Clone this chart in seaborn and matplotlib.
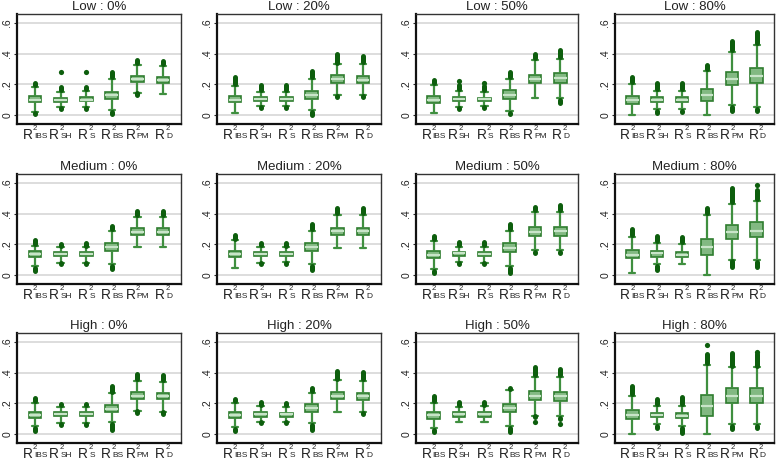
import numpy as np
import pandas as pd
import matplotlib
matplotlib.use('Agg')
import matplotlib.pyplot as plt
import seaborn as sns

levels = ['Low', 'Medium', 'High']
shares = ['0%', '20%', '50%', '80%']
measures = ['IBS', 'SH', 'S', 'BS', 'PM', 'D']

# one row per panel (Low 0/20/50/80, Medium ..., High ...), one column per measure
whis_lo = [
    [.020, .050, .050, .030, .145, .135],
    [.015, .055, .055, .030, .130, .130],
    [.010, .050, .055, .025, .110, .110],
    [.000, .040, .040, .000, .065, .050],
    [.055, .080, .080, .070, .180, .180],
    [.045, .080, .085, .070, .175, .175],
    [.040, .085, .080, .060, .160, .160],
    [.010, .070, .070, .000, .100, .095],
    [.050, .070, .070, .075, .150, .145],
    [.045, .080, .080, .070, .140, .140],
    [.035, .080, .075, .050, .120, .115],
    [.000, .065, .050, .000, .065, .065],
]
q1 = [
    [.083, .087, .090, .102, .213, .207],
    [.083, .090, .090, .104, .210, .207],
    [.076, .093, .093, .102, .207, .207],
    [.072, .087, .087, .093, .198, .207],
    [.115, .122, .124, .154, .261, .261],
    [.117, .124, .124, .154, .261, .261],
    [.111, .126, .122, .150, .257, .254],
    [.107, .120, .115, .133, .235, .248],
    [.103, .114, .114, .140, .227, .225],
    [.103, .111, .111, .144, .225, .223],
    [.100, .111, .111, .140, .223, .214],
    [.094, .109, .103, .120, .199, .200],
]
med = [
    [.100, .100, .100, .130, .235, .230],
    [.100, .105, .103, .130, .235, .230],
    [.100, .105, .103, .130, .235, .240],
    [.100, .100, .100, .130, .235, .255],
    [.135, .135, .137, .180, .280, .280],
    [.137, .137, .137, .180, .285, .285],
    [.130, .140, .135, .175, .280, .285],
    [.130, .140, .130, .180, .280, .290],
    [.125, .127, .127, .165, .250, .245],
    [.125, .128, .127, .170, .250, .245],
    [.122, .128, .128, .168, .250, .245],
    [.125, .123, .120, .180, .250, .250],
]
q3 = [
    [.120, .113, .115, .152, .254, .250],
    [.120, .115, .115, .156, .258, .252],
    [.126, .115, .113, .163, .263, .272],
    [.124, .117, .115, .172, .280, .309],
    [.154, .150, .150, .207, .304, .304],
    [.154, .148, .148, .209, .309, .309],
    [.154, .150, .150, .207, .311, .313],
    [.163, .154, .150, .235, .328, .343],
    [.142, .140, .140, .188, .273, .268],
    [.142, .140, .137, .194, .273, .268],
    [.142, .140, .140, .196, .280, .273],
    [.153, .138, .138, .251, .297, .297],
]
whis_hi = [
    [.185, .150, .155, .235, .325, .320],
    [.190, .150, .150, .235, .330, .335],
    [.195, .155, .150, .235, .360, .365],
    [.205, .155, .155, .285, .410, .455],
    [.190, .180, .180, .285, .380, .380],
    [.225, .185, .180, .285, .390, .390],
    [.220, .185, .185, .290, .410, .410],
    [.250, .210, .200, .390, .465, .485],
    [.200, .175, .175, .265, .345, .340],
    [.200, .180, .175, .270, .350, .345],
    [.200, .175, .180, .285, .375, .375],
    [.250, .185, .185, .450, .435, .435],
]
# extent of the dense runs of outliers beyond each whisker
out_hi = [
    [.210, .180, .180, .280, .360, .355],
    [.245, .195, .195, .285, .395, .385],
    [.230, .195, .190, .280, .400, .425],
    [.245, .210, .210, .325, .485, .545],
    [.230, .205, .210, .320, .420, .415],
    [.260, .210, .210, .330, .440, .440],
    [.255, .215, .215, .330, .445, .455],
    [.300, .255, .245, .440, .570, .555],
    [.235, .195, .195, .310, .390, .385],
    [.225, .210, .205, .300, .410, .405],
    [.245, .210, .210, .295, .435, .425],
    [.315, .225, .240, .520, .530, .520],
]
out_lo = [
    [.010, .045, .045, .005, .140, .125],
    [.005, .050, .050, .000, .120, .120],
    [.000, .045, .050, .005, .095, .080],
    [np.nan, .010, .020, np.nan, .025, .025],
    [.025, .080, .075, .040, .170, .170],
    [.030, .080, .080, .030, .160, .160],
    [.010, .080, .080, .015, .140, .140],
    [np.nan, .030, .060, np.nan, .050, .050],
    [.020, .065, .065, .025, .150, .140],
    [.020, .075, .075, .025, .130, .135],
    [.010, .070, .065, .010, .115, .100],
    [np.nan, .040, .005, np.nan, .030, .040],
]
# isolated outliers: (panel, measure, value)
lone_panel = [0, 0, 2, 2, 7, 10, 10, 11, 11]
lone_measure = ['SH', 'S', 'SH', 'S', 'D', 'PM', 'D', 'BS', 'D']
lone_value = [.280, .280, .220, .210, .590, .080, .065, .580, .535]

sns.set_style('white')
plt.rcParams['font.family'] = ['Liberation Sans', 'DejaVu Sans']

box_fill = '#82b982'
box_edge = '#2f7d2f'
med_col = '#c9e5c9'
whisk_col = '#3f8f3f'
dot_col = '#0d5e0d'
txt_col = '#222222'

W, H = 778, 461
col_left = [17, 217, 416, 615]
col_width = [164, 164, 162, 159]
row_top = [14, 174, 333]
row_h = 110

# rough Arial advance widths (em) to centre the R^2_sub labels
char_w = {'R': .722, 'I': .278, 'B': .667, 'S': .667, 'H': .722,
          'P': .667, 'M': .833, 'D': .722}
r_size, sub_size, sup_size = 9.8, 6.0, 5.5

fig = plt.figure(figsize=(W / 100, H / 100), dpi=100)

for r, lev in enumerate(levels):
    for c, sh in enumerate(shares):
        p = r * 4 + c
        ax = fig.add_axes([col_left[c] / W, 1 - (row_top[r] + row_h) / H,
                           col_width[c] / W, row_h / H])
        rows = []
        for i, m in enumerate(measures):
            for v in (whis_lo[p][i], q1[p][i], med[p][i], q3[p][i], whis_hi[p][i]):
                rows.append({'measure': m, 'value': v})
        df = pd.DataFrame(rows)
        for gy in (0, .2, .4, .6):
            ax.axhline(gy, color='#dddddd', lw=1.4, zorder=0)
        sns.boxplot(data=df, x='measure', y='value', order=measures, ax=ax,
                    whis=np.inf, width=0.5, color=box_fill, saturation=1,
                    linecolor=box_edge, linewidth=1.2,
                    medianprops=dict(color=med_col, lw=1.6),
                    whiskerprops=dict(color=whisk_col, lw=1.6),
                    capprops=dict(color=whisk_col, lw=1.6))
        for i in range(len(measures)):
            hi = out_hi[p][i]
            if not np.isnan(hi):
                ax.plot([i, i], [whis_hi[p][i] + .012, hi], color=dot_col,
                        lw=3.6, solid_capstyle='round', zorder=4)
            lo = out_lo[p][i]
            if not np.isnan(lo):
                ax.plot([i, i], [whis_lo[p][i] - .012, lo], color=dot_col,
                        lw=3.6, solid_capstyle='round', zorder=4)
        lone = pd.DataFrame({'measure': lone_measure, 'value': lone_value,
                             'panel': lone_panel})
        lone = lone[lone['panel'] == p]
        if len(lone):
            ax.scatter([measures.index(m) for m in lone['measure']],
                       lone['value'], s=14, color=dot_col, zorder=4, lw=0)
        ax.set_xlim(-0.7, 5.7)
        ax.set_ylim(-0.06, 0.66)
        ax.set_yticks([0, .2, .4, .6])
        ax.set_yticklabels(['0', '.2', '.4', '.6'], rotation=90,
                           va='center', fontsize=7.5, color=txt_col)
        ax.set_xticks(range(len(measures)))
        ax.set_xticklabels([])
        ax.tick_params(axis='y', length=2.5, width=0.8, pad=1, left=True)
        ax.tick_params(axis='x', length=0)
        # R with stacked superscript 2 and small subscript, as in Stata
        for i, m in enumerate(measures):
            w_r = char_w['R'] * r_size
            w_s = sum(char_w[ch] for ch in m) * sub_size * 1.08
            x0 = (w_r - w_s) / 2
            base = -10.6
            kw = dict(xy=(i, 0), xycoords=('data', 'axes fraction'),
                      textcoords='offset points', va='baseline',
                      color=txt_col, annotation_clip=False)
            ax.annotate('R', xytext=(x0, base), ha='right',
                        fontsize=r_size, **kw)
            ax.annotate('2', xytext=(x0 + 0.3, base + 6.6), ha='left',
                        fontsize=sup_size, **kw)
            ax.annotate(m, xytext=(x0 + 0.9, base + 0.2), ha='left',
                        fontsize=sub_size, **kw)
        ax.set_xlabel('')
        ax.set_ylabel('')
        ax.set_title('%s : %s' % (lev, sh), fontsize=9.5, pad=3,
                     color=txt_col)
        for side in ('left', 'bottom'):
            ax.spines[side].set_linewidth(1.6)
            ax.spines[side].set_color('#111111')
        for side in ('top', 'right'):
            ax.spines[side].set_linewidth(1.0)
            ax.spines[side].set_color('#333333')

fig.savefig('out.png', dpi=100)
